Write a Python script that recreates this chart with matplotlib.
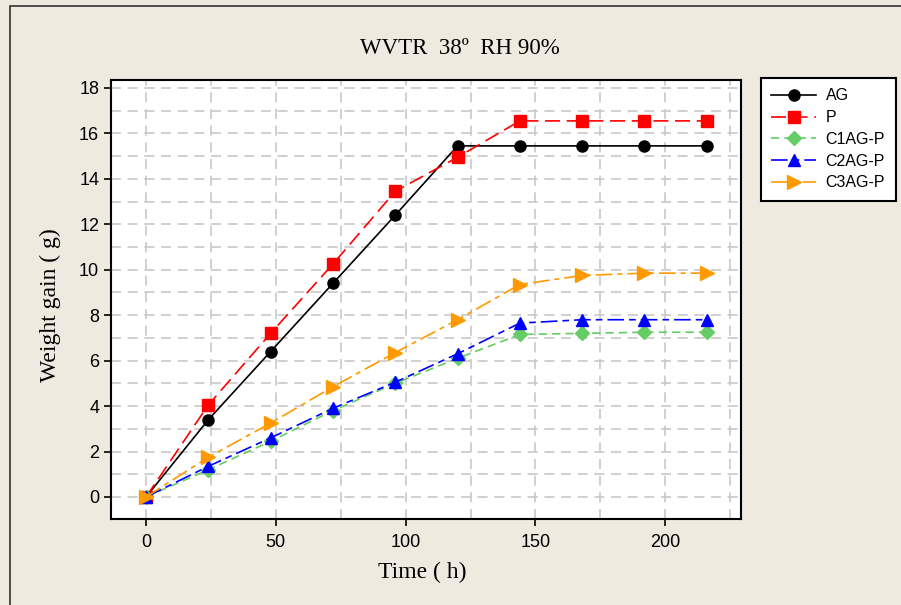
import matplotlib
matplotlib.use("Agg")
import matplotlib.pyplot as plt
from matplotlib.patches import Rectangle

time_h = [0, 24, 48, 72, 96, 120, 144, 168, 192, 216]
ag = [0, 3.4, 6.4, 9.4, 12.4, 15.45, 15.45, 15.45, 15.45, 15.45]
p = [0, 4.05, 7.2, 10.25, 13.45, 14.95, 16.55, 16.55, 16.55, 16.55]
c1ag_p = [0, 1.2, 2.45, 3.8, 5.0, 6.1, 7.15, 7.2, 7.25, 7.25]
c2ag_p = [0, 1.35, 2.6, 3.9, 5.05, 6.3, 7.65, 7.8, 7.8, 7.8]
c3ag_p = [0, 1.75, 3.25, 4.85, 6.35, 7.8, 9.35, 9.75, 9.85, 9.85]
labels = ["AG", "P", "C1AG-P", "C2AG-P", "C3AG-P"]
xticks = [0, 50, 100, 150, 200]
yticks = [0, 2, 4, 6, 8, 10, 12, 14, 16, 18]

W, H = 901, 605
bg = "#EEEAE0"
fig = plt.figure(figsize=(9.01, 6.05), dpi=100, facecolor=bg)
fig.patches.append(Rectangle((10/W, -0.05), 1.2, 1 - 6/H + 0.05, transform=fig.transFigure,
                             fill=False, edgecolor="#333333", linewidth=1.2))
ax = fig.add_axes([111/W, 1 - 519/H, (741 - 111)/W, (519 - 80)/H])
ax.set_facecolor("white")

styles = [
    dict(color="black", marker="o", dashes=()),
    dict(color="#FF0000", marker="s", dashes=(9, 4)),
    dict(color="#66CC66", marker="D", dashes=(5, 3)),
    dict(color="#0000FF", marker="^", dashes=(10, 3, 4, 3)),
    dict(color="#FF9900", marker=">", dashes=(10, 3, 3, 3)),
]
series = [ag, p, c1ag_p, c2ag_p, c3ag_p]
msz = [8, 8, 7, 9, 10]
handles = []
for s, lab, st, ms in zip(series, labels, styles, msz):
    kw = dict(color=st["color"], marker=st["marker"], markersize=ms, linewidth=1.2,
              markeredgecolor=st["color"], label=lab)
    if st["dashes"]:
        h, = ax.plot(time_h, s, linestyle="--", dashes=st["dashes"], **kw)
    else:
        h, = ax.plot(time_h, s, linestyle="-", **kw)
    handles.append(h)

ax.set_xlim(-13.5, 229.2)
ax.set_ylim(-0.97, 18.35)
ax.set_xticks(xticks)
ax.set_yticks(yticks)
ax.set_xticks(range(0, 226, 25), minor=True)
ax.set_yticks(range(0, 19, 1), minor=True)
ax.tick_params(which="minor", length=0)
ax.tick_params(which="major", direction="out", length=5, width=1.2, labelsize=13)
ax.tick_params(axis="x", pad=6)
for lab in ax.get_xticklabels() + ax.get_yticklabels():
    lab.set_fontfamily("Liberation Sans")
ax.grid(which="both", color="#C8C8C8", linestyle="--", dashes=(6, 4), linewidth=1.2)
ax.set_axisbelow(True)
for sp in ax.spines.values():
    sp.set_linewidth(1.5)
    sp.set_color("black")

fig.text(422/W, 1 - 572/H, "Time ( h)", fontfamily="Liberation Serif", fontsize=17,
         ha="center", va="center")
fig.text(50/W, 1 - 305/H, "Weight gain ( g)", fontfamily="Liberation Serif", fontsize=17,
         ha="center", va="center", rotation=90)
fig.text(460/W, 1 - 48/H, "WVTR  38º  RH 90%", fontfamily="Liberation Serif",
         fontsize=16.5, ha="center", va="center")

leg = fig.legend(handles=handles, labels=labels, loc="upper left",
                 bbox_to_anchor=(761/W, 1 - 78/H), borderaxespad=0, frameon=True, fancybox=False,
                 prop={"family": "Liberation Sans", "size": 11.5}, handlelength=2.8,
                 handletextpad=0.6, labelspacing=0.42, borderpad=0.65)
leg.get_frame().set_edgecolor("black")
leg.get_frame().set_linewidth(1.5)
leg.get_frame().set_facecolor("white")
leg.get_frame().set_alpha(1)

fig.savefig("out.png", dpi=100, facecolor=bg)
